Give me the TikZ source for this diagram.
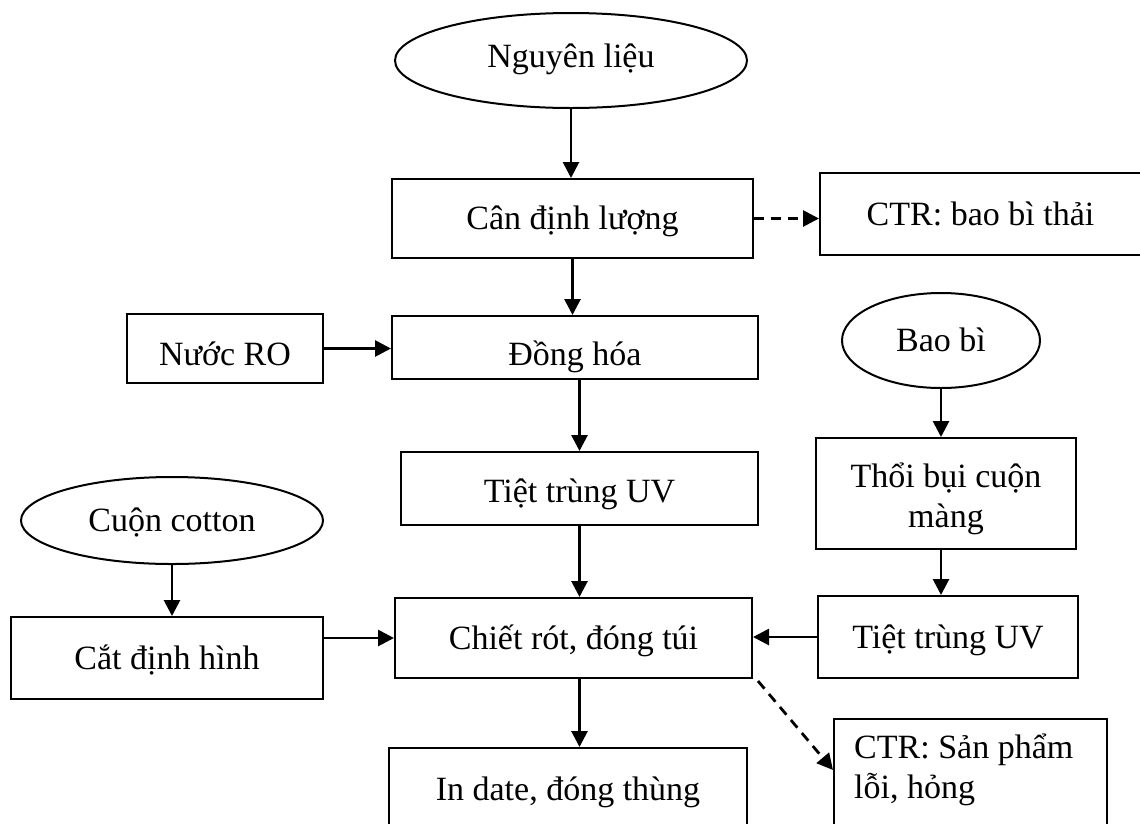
\documentclass[tikz,border=0pt]{standalone}
\usepackage{fontspec}
\setmainfont{Liberation Serif}
\usetikzlibrary{arrows.meta,shapes.geometric}
\begin{document}
\begin{tikzpicture}[x=1pt,y=-1pt,
  every node/.style={font=\fontsize{34}{40}\selectfont},
  box/.style={draw, line width=2pt, rectangle, inner sep=0pt, text height=22pt, text depth=0pt},
  oval/.style={draw, line width=2pt, ellipse, inner sep=0pt, text height=22pt, text depth=0pt},
  arr/.style={line width=2.8pt, -{Triangle[length=16pt,width=16pt]}},
  darr/.style={arr, dash pattern=on 10pt off 7pt}]
\clip (0,0) rectangle (1140,823);

% inputs
\node[oval, minimum width=352pt, minimum height=95pt, text height=13pt] (nl) at (571,60.5) {Nguyên liệu};
\node[oval, minimum width=198pt, minimum height=95pt] (baobi) at (941,340.5) {Bao bì};
\node[oval, minimum width=302pt, minimum height=87pt] (cotton) at (172,520.5) {Cuộn cotton};

% process steps
\node[box, minimum width=361pt, minimum height=79pt] (can) at (572.5,218.5) {Cân định lượng};
\node[box, minimum width=321pt, minimum height=82pt] (ctr1) at (980.5,214) {CTR: bao bì thải};
\node[box, minimum width=196pt, minimum height=69pt, text height=33pt] (nuoc) at (225,348.5) {Nước RO};
\node[box, minimum width=366pt, minimum height=63pt, text height=35pt] (dong) at (575,347.5) {Đồng hóa};
\node[box, minimum width=357pt, minimum height=73pt, text height=27pt] (tiet1) at (579.5,488.5) {Tiệt trùng UV};
\node[box, minimum width=260pt, minimum height=111pt] (thoi) at (946,493.5) {};
\node[anchor=base, align=center, inner sep=0pt] (thoitxt) at (946,527) {Thổi bụi cuộn\\màng};
\node[box, minimum width=312pt, minimum height=82pt] (cat) at (167,658) {Cắt định hình};
\node[box, minimum width=357pt, minimum height=80pt] (chiet) at (573.5,638) {Chiết rót, đóng túi};
\node[box, minimum width=260pt, minimum height=82pt] (tiet2) at (948,637) {Tiệt trùng UV};
\node[box, anchor=north west, minimum width=358pt, minimum height=82pt] (indate) at (388,747) {In date, đóng thùng};
\node[box, anchor=north west, minimum width=273pt, minimum height=120pt] (ctr2) at (833,718) {};
\node[anchor=base west, align=left, inner sep=0pt] (ctr2txt) at (854,798) {CTR: Sản phẩm\\lỗi, hỏng};

% flow
\draw[arr] (nl.south) -- (nl.south |- can.north);
\draw[darr] (can.east) -- (can.east -| ctr1.west);
\draw[arr] (can.south) -- (can.south |- dong.north);
\draw[arr] (nuoc.east) -- (nuoc.east -| dong.west);
\draw[arr] (tiet1.north |- dong.south) -- (tiet1.north);
\draw[arr] (tiet1.south) -- (tiet1.south |- chiet.north);
\draw[arr] (baobi.south) -- (baobi.south |- thoi.north);
\draw[arr] (baobi.south |- thoi.south) -- (baobi.south |- tiet2.north);
\draw[arr] (cotton.south) -- (cotton.south |- cat.north);
\draw[arr] (cat.east |- chiet.west) -- (chiet.west);
\draw[arr] (tiet2.west) -- (tiet2.west -| chiet.east);
\draw[arr] (chiet.south -| tiet1.south) -- (indate.north -| tiet1.south);
\draw[darr] ([shift={(5pt,-2pt)}]chiet.south east) -- ([yshift=-52pt]ctr2.north west);
\end{tikzpicture}
\end{document}
